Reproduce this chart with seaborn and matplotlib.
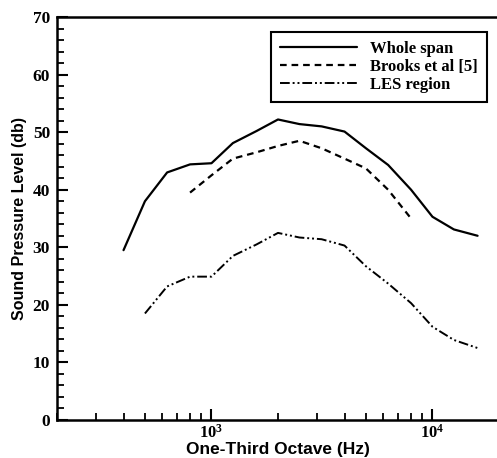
import numpy as np
import pandas as pd
import matplotlib
matplotlib.use("Agg")
import matplotlib.pyplot as plt
import seaborn as sns
from matplotlib.ticker import FixedLocator, MultipleLocator, NullFormatter

# ---- data ----
freq_whole = [400, 500, 630, 800, 1000, 1250, 1600, 2000, 2500, 3150, 4000,
              5000, 6300, 8000, 10000, 12500, 16000]
spl_whole = [29.5, 38.0, 43.0, 44.4, 44.6, 48.1, 50.2, 52.2, 51.4, 51.0, 50.1,
             47.2, 44.3, 40.0, 35.3, 33.1, 32.0]

freq_brooks = [800, 1000, 1250, 1600, 2000, 2500, 3150, 4000, 5000, 6300, 8000]
spl_brooks = [39.5, 42.5, 45.4, 46.5, 47.6, 48.5, 47.2, 45.4, 43.7, 40.0, 35.0]

freq_les = [500, 630, 800, 1000, 1250, 1600, 2000, 2500, 3150, 4000, 5000,
            6300, 8000, 10000, 12500, 16000]
spl_les = [18.5, 23.2, 24.9, 24.9, 28.5, 30.5, 32.5, 31.7, 31.4, 30.3, 26.7,
           23.7, 20.3, 16.2, 13.9, 12.5]

series_labels = ["Whole span", "Brooks et al [5]", "LES region"]
x_label = "One-Third Octave (Hz)"
y_label = "Sound Pressure Level (db)"
y_ticks = [0, 10, 20, 30, 40, 50, 60, 70]
x_major = [1000, 10000]
x_major_labels = [r"$\mathrm{10^{3}}$", r"$\mathrm{10^{4}}$"]

sns.set_style("ticks")
plt.rcParams["mathtext.fontset"] = "custom"
plt.rcParams["mathtext.rm"] = "Liberation Serif:bold"
plt.rcParams["mathtext.it"] = "Liberation Serif:bold"
plt.rcParams["mathtext.bf"] = "Liberation Serif:bold"
plt.rcParams["text.color"] = "black"
plt.rcParams["axes.labelcolor"] = "black"
plt.rcParams["xtick.color"] = "black"
plt.rcParams["ytick.color"] = "black"

fig = plt.figure(figsize=(4.97, 4.58), dpi=100)
ax = fig.add_axes([57 / 497, 1 - 420 / 458, 442 / 497, 403 / 458])

df_w = pd.DataFrame({"f": freq_whole, "spl": spl_whole})
df_b = pd.DataFrame({"f": freq_brooks, "spl": spl_brooks})
df_l = pd.DataFrame({"f": freq_les, "spl": spl_les})

sns.lineplot(data=df_w, x="f", y="spl", ax=ax, color="black", lw=1.6,
             linestyle="-", label=series_labels[0])
sns.lineplot(data=df_b, x="f", y="spl", ax=ax, color="black", lw=1.6,
             linestyle=(0, (3.0, 2.2)), label=series_labels[1])
sns.lineplot(data=df_l, x="f", y="spl", ax=ax, color="black", lw=1.4,
             linestyle=(0, (5, 1.5, 1, 1.5, 1, 1.5)), label=series_labels[2])

ax.set_xscale("log")
ax.set_xlim(200, 20000)
ax.set_ylim(0, 70)

ax.xaxis.set_major_locator(FixedLocator(x_major))
ax.set_xticklabels(x_major_labels)
minor = [m * 10 ** e for e in (2, 3) for m in range(2, 10)]
ax.xaxis.set_minor_locator(FixedLocator(minor))
ax.xaxis.set_minor_formatter(NullFormatter())

ax.set_yticks(y_ticks)
ax.yaxis.set_minor_locator(MultipleLocator(2))

ax.tick_params(which="major", direction="in", length=8, width=1.5,
               colors="black")
ax.tick_params(which="minor", direction="in", length=5, width=1.3, colors="black")
ax.tick_params(axis="y", which="major", pad=5, labelsize=12.5)
ax.tick_params(axis="x", which="major", pad=3, labelsize=12)
for lbl in ax.get_yticklabels():
    lbl.set_fontfamily("Liberation Serif")
    lbl.set_fontweight("bold")

for s in ax.spines.values():
    s.set_linewidth(1.8)
    s.set_color("black")

ax.set_xlabel(x_label, fontfamily="Liberation Sans", fontweight="bold",
              fontsize=12.5, labelpad=0, color="black")
ax.set_ylabel(y_label, fontfamily="Liberation Sans", fontweight="bold",
              fontsize=11.5, labelpad=4, color="black")

leg = ax.legend(loc="upper right", bbox_to_anchor=(0.973, 0.963),
                borderaxespad=0,
                frameon=True, fancybox=False, framealpha=1, edgecolor="black",
                handlelength=4.6, handletextpad=0.8, borderpad=0.55,
                labelspacing=0.12,
                prop={"family": "Liberation Serif", "weight": "bold", "size": 12})
leg.get_frame().set_linewidth(1.5)
for t in leg.get_texts():
    t.set_color("black")

fig.savefig("out.png", dpi=100)
